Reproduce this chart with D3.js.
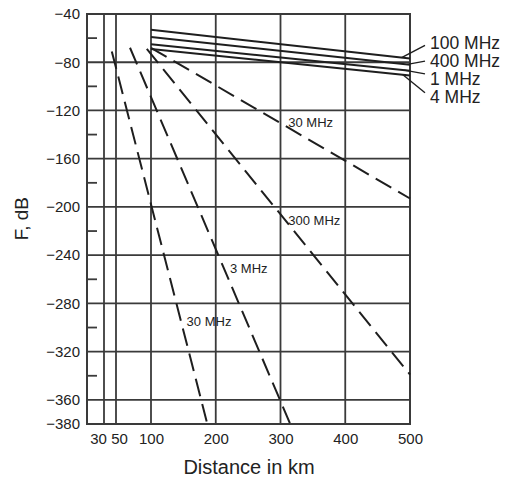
<!DOCTYPE html>
<html>
<head>
<meta charset="utf-8">
<script src="https://cdn.jsdelivr.net/npm/d3@7"></script>
<style>
  html, body { margin: 0; padding: 0; background: #fff; }
  svg { display: block; font-family: "Liberation Sans", Arial, Helvetica, sans-serif; }
</style>
</head>
<body>
<div id="chart"></div>
<script>
// Axis ticks
const distanceTicks = [30, 50, 100, 200, 300, 400, 500];
const levelLabels = [-40, -80, -120, -160, -200, -240, -280, -320, -360, -380];
const levelGrid = [-80, -120, -160, -200, -240, -280, -320, -360];
const levelMinor = [-60, -100, -140, -180, -220, -260, -300, -340];

// Solid curves: F (dB) at 100 km and at 500 km
const solidNames = ["100 MHz", "400 MHz", "1 MHz", "4 MHz"];
const solidFromKm = [100, 100, 100, 100];
const solidFromF = [-53, -59, -65, -69];
const solidToKm = [500, 500, 500, 500];
const solidToF = [-77, -82, -87, -91];

// Dashed curves: start and end points (km, dB)
const dashedNames = ["30 MHz", "300 MHz", "3 MHz", "30 MHz"];
const dashedFromKm = [100, 94, 70, 43];
const dashedFromF = [-68, -69, -68, -71];
const dashedToKm = [500, 500, 315, 187];
const dashedToF = [-193, -339, -380, -380];

// Where each dashed curve's name is written (km, dB of text baseline start)
const dashedLabelKm = [312, 312, 222, 155];
const dashedLabelF = [-133.5, -215, -255, -299];

// Point on each solid curve that its callout line touches (km)
const calloutKm = [487, 496, 491, 489];

const width = 513, height = 479;
const margin = { top: 14, left: 87 };
const W = 323, H = 410;

const svg = d3.select("#chart").append("svg")
  .attr("width", width).attr("height", height);

const g = svg.append("g").attr("transform", `translate(${margin.left},${margin.top})`);

// The distance axis is stretched below 100 km
const x = d3.scaleLinear().domain([0, 30, 50, 100, 500]).range([0, 17, 29, 64, W]);
const y = d3.scaleLinear().domain([-40, -380]).range([0, H]);

const gridColor = "#3a3a3a";
const inkColor = "#1e1e1e";

// Horizontal grid
g.append("g").selectAll("line").data(levelGrid).join("line")
  .attr("x1", 0).attr("x2", W)
  .attr("y1", d => y(d)).attr("y2", d => y(d))
  .attr("stroke", gridColor).attr("stroke-width", 1.8);

// Vertical grid
g.append("g").selectAll("line").data(distanceTicks.filter(d => d < 500)).join("line")
  .attr("x1", d => x(d)).attr("x2", d => x(d))
  .attr("y1", 0).attr("y2", H)
  .attr("stroke", gridColor).attr("stroke-width", 1.8);

// Minor ticks on the inside of the left edge
g.append("g").selectAll("line").data(levelMinor).join("line")
  .attr("x1", 0).attr("x2", 10)
  .attr("y1", d => y(d)).attr("y2", d => y(d))
  .attr("stroke", gridColor).attr("stroke-width", 1.8);

// Frame
g.append("rect").attr("x", 0).attr("y", 0).attr("width", W).attr("height", H)
  .attr("fill", "none").attr("stroke", gridColor).attr("stroke-width", 2);

// Left axis labels
const yAxis = g.append("g")
  .call(d3.axisLeft(y).tickValues(levelLabels).tickSize(0).tickPadding(7).tickFormat(d3.format("d")));
yAxis.select(".domain").remove();
yAxis.selectAll("text").attr("font-size", 15).attr("fill", "#222")
  .attr("font-family", "Liberation Sans, Arial, sans-serif");

// Bottom axis labels
const xAxis = g.append("g").attr("transform", `translate(0,${H})`)
  .call(d3.axisBottom(x).tickValues(distanceTicks).tickSize(0).tickPadding(9).tickFormat(d3.format("d")));
xAxis.select(".domain").remove();
xAxis.selectAll("text").attr("font-size", 15).attr("fill", "#222")
  .attr("font-family", "Liberation Sans, Arial, sans-serif")
  .attr("dx", d => d === 30 ? -6 : d === 50 ? 3 : 0);

const line = d3.line().x(d => x(d[0])).y(d => y(d[1]));

// Solid curves
const solidData = solidNames.map((n, i) => ({
  name: n,
  pts: [[solidFromKm[i], solidFromF[i]], [solidToKm[i], solidToF[i]]]
}));
g.append("g").selectAll("path").data(solidData).join("path")
  .attr("d", d => line(d.pts))
  .attr("fill", "none").attr("stroke", inkColor).attr("stroke-width", 2);

// Dashed curves
const dashedData = dashedNames.map((n, i) => ({
  name: n,
  pts: [[dashedFromKm[i], dashedFromF[i]], [dashedToKm[i], dashedToF[i]]]
}));
g.append("g").selectAll("path").data(dashedData).join("path")
  .attr("d", d => line(d.pts))
  .attr("fill", "none").attr("stroke", inkColor).attr("stroke-width", 2)
  .attr("stroke-dasharray", "18,8");

// Dashed curve names
g.append("g").selectAll("text").data(dashedNames).join("text")
  .attr("x", (d, i) => x(dashedLabelKm[i]))
  .attr("y", (d, i) => y(dashedLabelF[i]))
  .attr("font-size", 13).attr("fill", "#222")
  .text(d => d);

// Solid curve names with callout lines, stacked right of the frame
const labelX = W + 20;
const labelStep = 17.8;
const baseline0 = 49.3 - margin.top;
const calloutRise = [4, 6, 11, 10];
const callouts = g.append("g");
solidData.forEach((d, i) => {
  const b = baseline0 + i * labelStep;
  const frac = (calloutKm[i] - solidFromKm[i]) / (solidToKm[i] - solidFromKm[i]);
  const fAt = solidFromF[i] + frac * (solidToF[i] - solidFromF[i]);
  callouts.append("line")
    .attr("x1", labelX - 5).attr("y1", b - calloutRise[i])
    .attr("x2", x(calloutKm[i])).attr("y2", y(fAt))
    .attr("stroke", inkColor).attr("stroke-width", 1.4);
  callouts.append("text")
    .attr("x", labelX).attr("y", b)
    .attr("font-size", 17.5).attr("fill", "#222")
    .text(d.name);
});

// Axis titles
svg.append("text")
  .attr("transform", `translate(28,${218.7}) rotate(-90)`)
  .attr("text-anchor", "middle")
  .attr("font-size", 19).attr("fill", "#222")
  .text("F, dB");

svg.append("text")
  .attr("x", 249).attr("y", 474)
  .attr("text-anchor", "middle")
  .attr("font-size", 20).attr("fill", "#222")
  .text("Distance in km");
</script>
</body>
</html>
